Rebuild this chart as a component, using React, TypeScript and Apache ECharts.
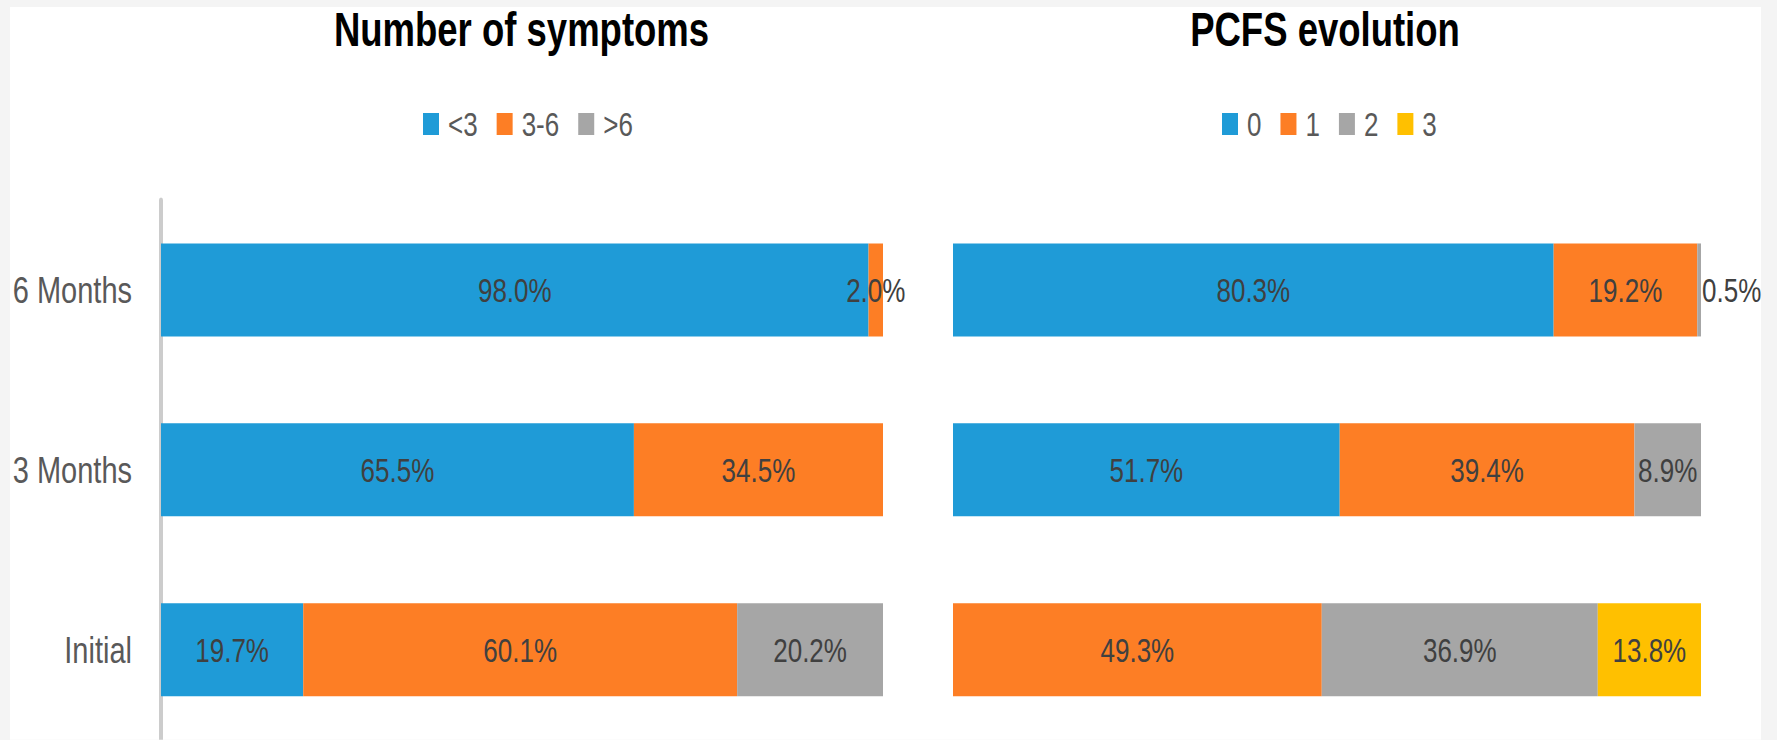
import React, { useEffect, useRef } from "react";
import * as echarts from "echarts";

const categories = ["Initial", "3 Months", "6 Months"];

const symptomsTitle = "Number of symptoms";
const symptomsNames = ["<3", "3-6", ">6"];
const symptomsLt3 = [19.7, 65.5, 98.0];
const symptoms3to6 = [60.1, 34.5, 2.0];
const symptomsGt6 = [20.2, 0, 0];

const pcfsTitle = "PCFS evolution";
const pcfsNames = ["0", "1", "2", "3"];
const pcfs0 = [0, 51.7, 80.3];
const pcfs1 = [49.3, 39.4, 19.2];
const pcfs2 = [36.9, 8.9, 0.5];
const pcfs3 = [13.8, 0, 0];

const COLORS = ["#1f9bd7", "#fd7e25", "#a6a6a6", "#ffc000"];
const FONT = "'Liberation Sans', Arial, sans-serif";
// the reference picture is vertically stretched; render then stretch by S
const S = 1.3;
const W = 1777;
const H = 740 / S;
const py = (pageY: number) => pageY / S;

export default function App() {
  const ref = useRef<HTMLDivElement>(null);

  useEffect(() => {
    if (!ref.current) return;
    const chart = echarts.init(ref.current, undefined, { renderer: "svg" });

    const mkSeries = (name: string, values: number[], color: string, idx: number, stack: string) => ({
      type: "bar",
      name,
      stack,
      xAxisIndex: idx,
      yAxisIndex: idx,
      barWidth: py(93),
      itemStyle: { color },
      data: values.map((v) =>
        v === 0
          ? "-"
          : v < 1
          ? { value: v, label: { position: "right", distance: 1 } }
          : v
      ),
      label: {
        show: true,
        position: "inside",
        color: "#404040",
        fontFamily: FONT,
        fontSize: 26,
        formatter: (p: any) => (p.value ? Number(p.value).toFixed(1) + "%" : ""),
      },
    });

    const symSeries = [symptomsLt3, symptoms3to6, symptomsGt6].map((vals, i) =>
      mkSeries(symptomsNames[i], vals, COLORS[i], 0, "sym")
    );
    const pcfsSeries = [pcfs0, pcfs1, pcfs2, pcfs3].map((vals, i) =>
      mkSeries(pcfsNames[i], vals, COLORS[i], 1, "pcfs")
    );

    const legendCommon = {
      top: py(124) - 13,
      padding: 0,
      icon: "rect",
      itemWidth: 16,
      itemHeight: py(22),
      itemGap: 19,
      selectedMode: false,
      textStyle: { color: "#595959", fontFamily: FONT, fontSize: 26, lineHeight: 26, padding: [0, 0, 0, 4] },
    };

    const titleStyle = { fontFamily: FONT, fontSize: 36.5, fontWeight: "bold", color: "#000000" };

    chart.setOption({
      animation: false,
      backgroundColor: "#f4f4f4",
      graphic: [
        {
          type: "rect",
          z: -10,
          silent: true,
          shape: { x: 10, y: py(7), width: 1751, height: H - py(7) + 2 },
          style: { fill: "#ffffff" },
        },
      ],
      title: [
        { text: symptomsTitle, left: 521.5, top: py(30) - 18.5, padding: 0, textAlign: "center", textStyle: titleStyle },
        { text: pcfsTitle, left: 1325, top: py(30) - 18.5, padding: 0, textAlign: "center", textStyle: titleStyle },
      ],
      legend: [
        { ...legendCommon, left: 423, data: symptomsNames },
        { ...legendCommon, left: 1222, data: pcfsNames },
      ],
      grid: [
        { left: 161, width: 722, top: py(200), height: py(543) },
        { left: 953, width: 748, top: py(200), height: py(543) },
      ],
      xAxis: [
        { type: "value", gridIndex: 0, min: 0, max: 100, show: false },
        { type: "value", gridIndex: 1, min: 0, max: 100, show: false },
      ],
      yAxis: [
        {
          type: "category",
          gridIndex: 0,
          data: categories,
          offset: 2,
          axisLine: { show: true, lineStyle: { color: "#cccccc", width: 4 } },
          axisTick: { show: false },
          axisLabel: { color: "#595959", fontFamily: FONT, fontSize: 29, margin: 27 },
        },
        {
          type: "category",
          gridIndex: 1,
          data: categories,
          show: false,
        },
      ],
      series: [...symSeries, ...pcfsSeries],
    });

    return () => chart.dispose();
  }, []);

  return (
    <div style={{ position: "fixed", left: 0, top: 0, width: W, height: 740, overflow: "hidden", background: "#f4f4f4" }}>
      <div
        ref={ref}
        style={{ position: "absolute", left: 0, top: 0, width: W, height: H, transform: `scaleY(${S})`, transformOrigin: "0 0" }}
      />
    </div>
  );
}
